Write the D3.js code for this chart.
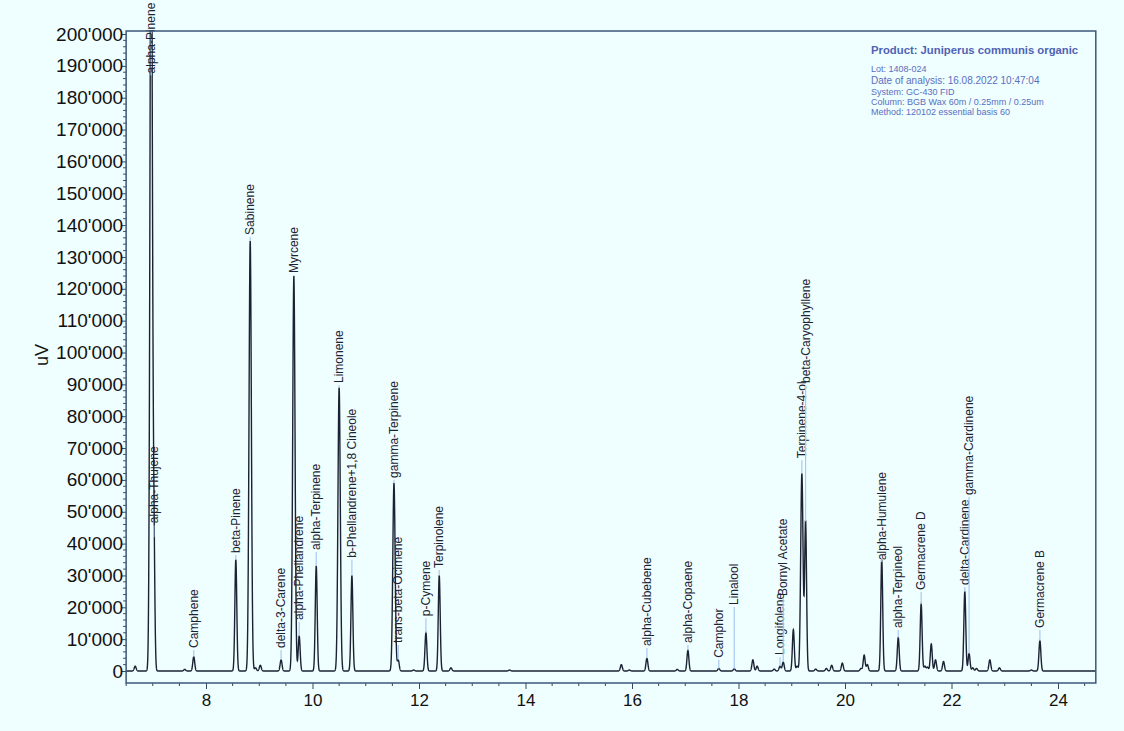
<!DOCTYPE html>
<html><head><meta charset="utf-8">
<script src="https://cdn.jsdelivr.net/npm/d3@7/dist/d3.min.js"></script>
<style>body{margin:0;background:#effefe;}svg{display:block;font-family:"Liberation Sans",Arial,sans-serif;}</style>
</head><body><svg id="c" width="1124" height="731"></svg>
<script>
// labelled peaks: retention time (min), height (uV), label anchor value (uV)
const peakNames = ["alpha-Pinene","alpha-Thujene","Camphene","beta-Pinene","Sabinene","delta-3-Carene","Myrcene","alpha-Phellandrene","alpha-Terpinene","Limonene","b-Phellandrene+1,8 Cineole","gamma-Terpinene","trans-beta-Ocimene","p-Cymene","Terpinolene","alpha-Cubebene","alpha-Copaene","Camphor","Linalool","Longifolene","Bornyl Acetate","Terpinene-4-ol","beta-Caryophyllene","alpha-Humulene","alpha-Terpineol","Germacrene D","delta-Cardinene","gamma-Cardinene","Germacrene B"];
const peakRT = [6.97,7.02,7.77,8.56,8.83,9.41,9.65,9.75,10.07,10.50,10.74,11.53,11.61,12.13,12.38,16.28,17.05,17.63,17.92,18.78,18.84,19.19,19.26,20.69,21.00,21.43,22.25,22.33,23.66];
const peakHeight = [260000,42000,4500,35000,135000,3500,124000,11000,33000,89000,30000,59000,3500,12000,30000,4000,6500,800,700,1500,2800,62000,47000,35000,10500,21000,25000,5500,9500];
const labelAt = [187000,45800,6600,36400,136300,6600,124300,15400,37400,89800,34900,60000,8200,16600,31700,7200,8200,3500,20100,4400,22900,66200,89800,34200,12900,24800,26400,54600,12900];
// unlabelled minor peaks
const minorRT = [6.67,7.60,8.93,9.02,11.90,12.60,13.70,15.80,15.95,16.85,18.27,18.35,18.67,19.03,19.10,19.45,19.65,19.75,19.95,20.30,20.36,20.42,21.50,21.55,21.62,21.70,21.85,22.40,22.47,22.72,22.90,23.50];
const minorHeight = [1500,500,1000,1800,300,1000,300,2000,300,500,3500,1500,600,13000,1500,600,800,1800,2500,800,5000,2000,1500,1200,8500,3500,3000,1000,800,3500,1000,300];
const yTicks = d3.range(0,200001,10000);
const xTicks = [8,10,12,14,16,18,20,22,24];
const infoTitle = "Product: Juniperus communis organic";
const infoLines = ["Lot: 1408-024","Date of analysis: 16.08.2022 10:47:04","System: GC-430 FID","Column: BGB Wax 60m / 0.25mm / 0.25um","Method: 120102 essential basis 60"];

const svg = d3.select("#c");
const x = d3.scaleLinear().domain([8,24]).range([206,1058]);
const y = d3.scaleLinear().domain([0,200000]).range([671,34]);
const L = x(6.50), R = x(24.71), T = 31, B = 683;

svg.append("rect").attr("width",1124).attr("height",731).attr("fill","#effefe");
svg.append("defs").append("clipPath").attr("id","cp").append("rect")
  .attr("x",L).attr("y",T).attr("width",R-L).attr("height",B-T);

// axes
const yAx = d3.axisLeft(y).tickValues(yTicks).tickSize(5).tickFormat(d=>d3.format(",")(d).replace(/,/g,"'"));
const gy = svg.append("g").attr("transform",`translate(${L},0)`).call(yAx);
gy.select(".domain").remove();
gy.selectAll("text").attr("font-size",19).attr("fill","#111").attr("x",-3);
gy.selectAll("line").attr("stroke","#33475f");
svg.append("g").selectAll("line").data(d3.range(0,200001,2000).filter(v=>v%10000)).join("line")
  .attr("x1",L-3).attr("x2",L).attr("y1",d=>y(d)).attr("y2",d=>y(d)).attr("stroke","#33475f");

const xAx = d3.axisBottom(x).tickValues(xTicks).tickSize(6).tickFormat(d3.format("d"));
const gx = svg.append("g").attr("transform",`translate(0,${B})`).call(xAx);
gx.select(".domain").remove();
gx.selectAll("text").attr("font-size",17).attr("fill","#111").attr("dy","0.85em");
gx.selectAll("line").attr("stroke","#33475f");
svg.append("g").selectAll("line").data(d3.range(6.5,24.71,0.5).filter(v=>v%2)).join("line")
  .attr("x1",d=>x(d)).attr("x2",d=>x(d)).attr("y1",B).attr("y2",B+3).attr("stroke","#33475f");

svg.append("text").attr("transform","translate(48,355) rotate(-90)").attr("text-anchor","middle")
  .attr("font-size",18).attr("fill","#111").text("uV");

// chromatogram
const allRT = peakRT.concat(minorRT), allH = peakHeight.concat(minorHeight);
const sig = h => h>50000 ? 0.022 : 0.018;
const pts = d3.range(6.5,24.71,0.002).map(t=>{
  let v=0; allRT.forEach((r,i)=>{const s=sig(allH[i]); v+=allH[i]*Math.exp(-0.5*((t-r)/s)**2);}); return [t,v];
});
const plot = svg.append("g").attr("clip-path","url(#cp)");
plot.append("path").datum(pts).attr("fill","none").attr("stroke","#1b2233").attr("stroke-width",1.4)
  .attr("d",d3.line().x(d=>x(d[0])).y(d=>y(d[1])));

// labels
const lab = svg.append("g");
peakNames.forEach((n,i)=>{
  const px = x(peakRT[i]), top = Math.min(peakHeight[i],200900);
  lab.append("line").attr("x1",px).attr("x2",px).attr("y1",y(top)).attr("y2",y(labelAt[i]))
    .attr("stroke","#a9c9f2").attr("stroke-width",1.2);
  lab.append("text").attr("transform",`translate(${px+4},${y(labelAt[i])-2}) rotate(-90)`)
    .attr("font-size",12).attr("fill","#1b2233").text(n);
});

// frame
svg.append("rect").attr("x",L).attr("y",T).attr("width",R-L).attr("height",B-T)
  .attr("fill","none").attr("stroke","#3d5778").attr("stroke-width",1.5);

// info
svg.append("text").attr("x",871).attr("y",54).attr("font-size",11.3).attr("font-weight","bold").attr("fill","#4f63b4").text(infoTitle);
infoLines.forEach((t,i)=>{
  svg.append("text").attr("x",871).attr("y",[72,84,95,105,115][i]).attr("font-size",i==1?10:9)
    .attr("fill","#5a6fc0").text(t);
});
</script></body></html>
